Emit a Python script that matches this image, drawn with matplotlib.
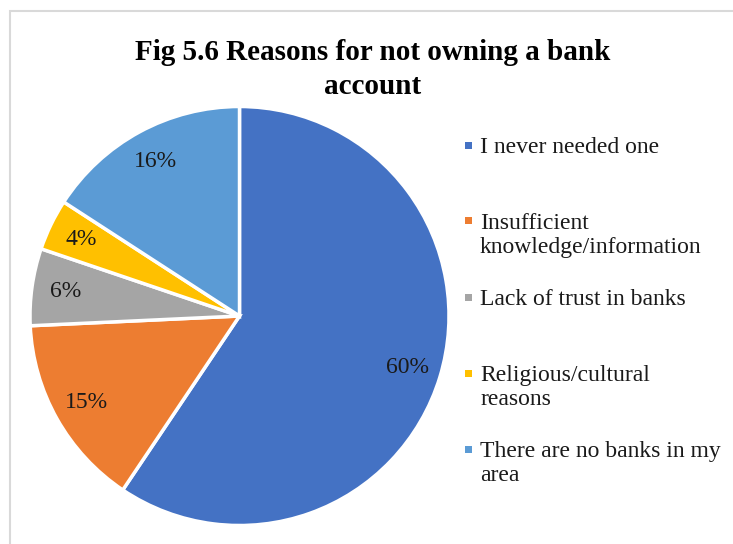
import matplotlib
matplotlib.use("Agg")
import matplotlib.pyplot as plt
from matplotlib.patches import Rectangle

# Data
reasons = ["I never needed one",
           "Insufficient\nknowledge/information",
           "Lack of trust in banks",
           "Religious/cultural\nreasons",
           "There are no banks in my\narea"]
shares = [60, 15, 6, 4, 16]
colors = ["#4472C4", "#ED7D31", "#A5A5A5", "#FFC000", "#5B9BD5"]

plt.rcParams["font.family"] = ["Liberation Serif", "DejaVu Serif"]

W, H = 733, 544
fig = plt.figure(figsize=(W / 100, H / 100), dpi=100)

# chart frame
fig.patches.append(Rectangle((10 / W, -0.1), 1.2, (H - 11) / H + 0.1,
                             transform=fig.transFigure, fill=False,
                             edgecolor="#d9d9d9", linewidth=1.5))

# pie: centre (239.5, 316) px from top, radius 209.5 px
r = 209.5
cx, cy = 239.5, H - 316
ax = fig.add_axes([(cx - r) / W, (cy - r) / H, 2 * r / W, 2 * r / H])
wedges, texts = ax.pie(shares, colors=colors, startangle=90, counterclock=False,
                       labels=[f"{v}%" for v in shares], labeldistance=0.84,
                       wedgeprops=dict(edgecolor="white", linewidth=2.5, clip_on=False),
                       textprops=dict(fontsize=17, color="#1a1a1a"))
for t in texts:
    t.set_ha("center")
    t.set_va("center")
ax.set_xlim(-1, 1)
ax.set_ylim(-1, 1)
ax.set_aspect("equal")
ax.axis("off")

# title
fig.text(373 / W, 1 - 52 / H, "Fig 5.6 Reasons for not owning a bank",
         ha="center", va="center", fontsize=21, fontweight="bold")
fig.text(373 / W, 1 - 86 / H, "account",
         ha="center", va="center", fontsize=21, fontweight="bold")

# legend, entries 76 px apart
for i, (lab, c) in enumerate(zip(reasons, colors)):
    y = 145 + 76 * i
    fig.patches.append(Rectangle((465 / W, 1 - (y + 3.5) / H), 7 / W, 7 / H,
                                 transform=fig.transFigure, facecolor=c,
                                 edgecolor="none"))
    fig.text(480 / W, 1 - (y - 8) / H, lab, ha="left", va="top",
             fontsize=17, color="#1a1a1a", linespacing=1.2)

fig.savefig("out.png", dpi=100)
